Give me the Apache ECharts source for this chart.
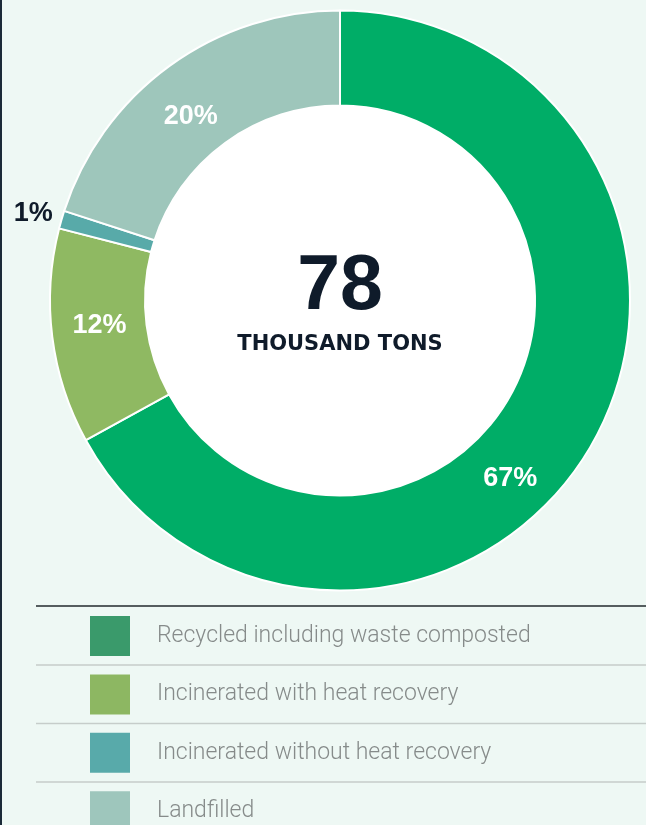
<!DOCTYPE html>
<html>
<head>
<meta charset="utf-8">
<script src="https://cdn.jsdelivr.net/npm/echarts@6/dist/echarts.min.js"></script>
<style>
  html, body { margin: 0; padding: 0; background: #eef8f4; overflow: hidden; }
  #main { width: 646px; height: 870px; }
</style>
</head>
<body>
<div id="main"></div>
<script>
// waste by treatment, share in percent (total 78 thousand tons)
var categories = [
  'Recycled including waste composted',
  'Incinerated with heat recovery',
  'Incinerated without heat recovery',
  'Landfilled'
];
var shares = [67, 12, 1, 20];
var totalLabel = '78';
var unitLabel = 'THOUSAND TONS';

var sliceColors = ['#00ad67', '#8fb962', '#58aaa9', '#9ec6bb'];
var swatchColors = ['#3a9a6b', '#8db762', '#58aaaa', '#9ec6bc'];
// nudges to put the percent labels where the original has them
var labelOffsets = [[-41, 53], [3, -6], [-71, -18], [-5, 15]];
var labelColors = ['#ffffff', '#ffffff', '#0f1b2a', '#ffffff'];

var myChart = echarts.init(document.getElementById('main'));

var pieData = categories.map(function (name, i) {
  return {
    name: name,
    value: shares[i],
    itemStyle: { color: sliceColors[i] },
    label: { offset: labelOffsets[i], color: labelColors[i] }
  };
});

var legendData = categories.map(function (name, i) {
  return { name: name, itemStyle: { color: swatchColors[i], borderWidth: 0 } };
});

var option = {
  backgroundColor: '#eef8f4',
  animation: false,
  legend: {
    orient: 'vertical',
    left: 90,
    top: 616,
    height: 250,
    padding: 0,
    itemWidth: 40,
    itemHeight: 40,
    itemGap: 18.4,
    icon: 'rect',
    selectedMode: false,
    data: legendData,
    textStyle: {
      fontFamily: 'Roboto',
      fontWeight: 300,
      fontSize: 23,
      color: '#868b8a',
      padding: [0, 0, 0, 22]
    }
  },
  graphic: [
    // left edge rule
    { type: 'rect', shape: { x: 0, y: 0, width: 2, height: 870 }, style: { fill: '#1b2a38' } },
    // white disc inside the ring
    { type: 'circle', z: 0, shape: { cx: 340, cy: 300.5, r: 195 }, style: { fill: '#ffffff' } },
    // legend separators
    { type: 'line', shape: { x1: 36, y1: 606, x2: 646, y2: 606 }, style: { stroke: '#555d5f', lineWidth: 2 } },
    { type: 'line', shape: { x1: 36, y1: 665, x2: 646, y2: 665 }, style: { stroke: '#c6cdca', lineWidth: 1.5 } },
    { type: 'line', shape: { x1: 36, y1: 723.5, x2: 646, y2: 723.5 }, style: { stroke: '#c6cdca', lineWidth: 1.5 } },
    { type: 'line', shape: { x1: 36, y1: 782, x2: 646, y2: 782 }, style: { stroke: '#c6cdca', lineWidth: 1.5 } },
    // centre total
    {
      type: 'text', x: 340, y: 288, z: 10,
      style: {
        text: totalLabel, align: 'center', verticalAlign: 'middle',
        font: 'bold 77px "Liberation Sans", Arial, sans-serif', fill: '#0f1b2a'
      }
    },
    {
      type: 'text', x: 340, y: 345, z: 10,
      style: {
        text: unitLabel, align: 'center', verticalAlign: 'middle',
        font: 'bold 21px "DejaVu Sans", sans-serif', fill: '#0f1b2a'
      }
    }
  ],
  series: [
    {
      type: 'pie',
      center: [340, 300.5],
      radius: [195, 290],
      startAngle: 90,
      clockwise: true,
      avoidLabelOverlap: false,
      itemStyle: { borderColor: '#ffffff', borderWidth: 2 },
      label: {
        show: true,
        position: 'inside',
        formatter: '{c}%',
        fontFamily: '"Liberation Sans", Arial, sans-serif',
        fontWeight: 'bold',
        fontSize: 27
      },
      labelLine: { show: false },
      emphasis: { disabled: true },
      data: pieData
    }
  ]
};
myChart.setOption(option);
</script>
</body>
</html>
